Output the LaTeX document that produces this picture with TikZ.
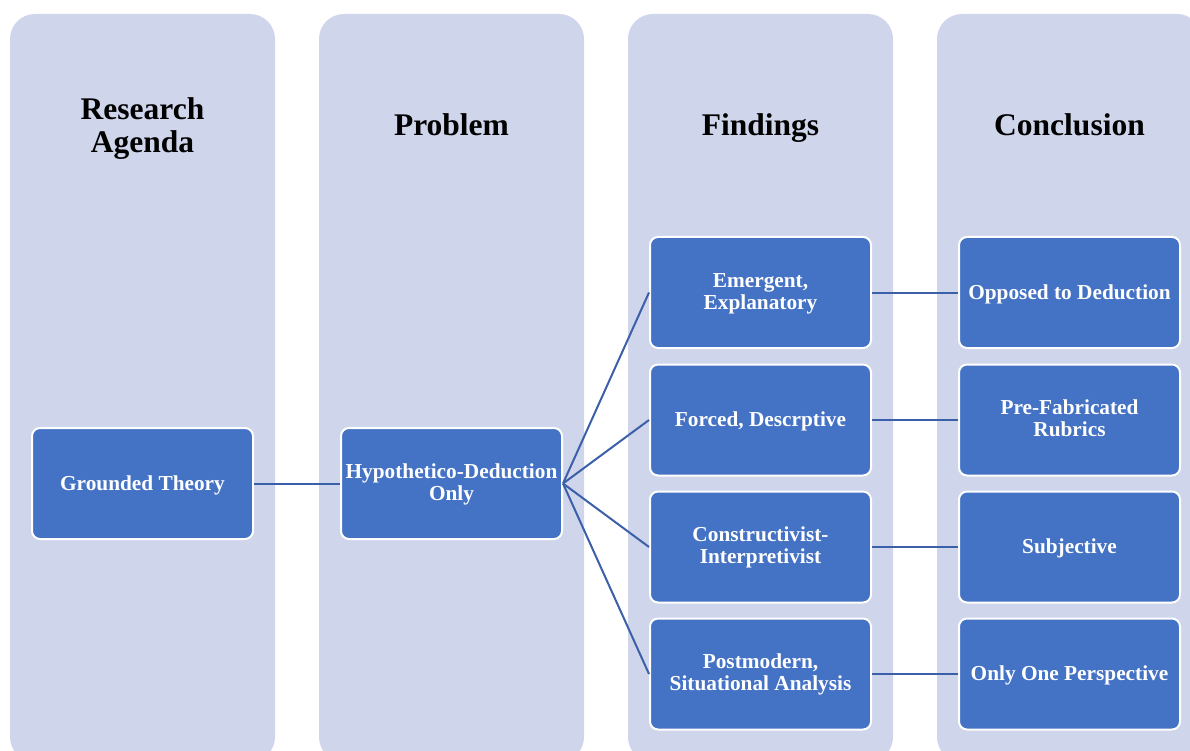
\documentclass[tikz,border=0pt]{standalone}
\usepackage{fontspec}
\setmainfont{Liberation Serif}
\begin{document}
\definecolor{colbg}{RGB}{207,213,234}
\definecolor{boxfill}{RGB}{68,114,196}
\definecolor{linkblue}{RGB}{59,95,168}
\begin{tikzpicture}[x=1pt,y=-1pt,
  column/.style={fill=colbg,rounded corners=25pt},
  heading/.style={font=\fontsize{31.5}{33}\selectfont\bfseries,align=center,text=black},
  item/.style={draw=white,line width=2pt,fill=boxfill,rounded corners=8pt,
    minimum width=221pt,minimum height=111pt,inner sep=2pt,
    text=white,align=center,font=\fontsize{21.3}{21.7}\selectfont\bfseries,
    text height=15pt,text depth=1.6pt},
  item2/.style={item,text height=36.7pt,text depth=3.7pt},
  link/.style={draw=linkblue,line width=2pt}]
\useasboundingbox (0,0) rectangle (1190,751);
\clip (0,0) rectangle (1190,751);
% column backgrounds
\fill[column] (10,14) rectangle (275,762);
\fill[column] (319,14) rectangle (584,762);
\fill[column] (628,14) rectangle (893,762);
\fill[column] (937,14) rectangle (1202,762);
% headings
\node[heading] (h1) at (142.5,128.5) {Research\\Agenda};
\node[heading,anchor=base] (h2) at (451.5,135.7) {Problem};
\node[heading,anchor=base] (h3) at (760.5,135.7) {Findings};
\node[heading,anchor=base] (h4) at (1069.5,135.7) {Conclusion};
% boxes
\node[item] (gt) at (142.5,483.5) {Grounded Theory};
\node[item2] (hd) at (451.5,483.5) {Hypothetico-Deduction\\Only};
\node[item2] (f1) at (760.5,292.5) {Emergent,\\Explanatory};
\node[item] (f2) at (760.5,420) {Forced, Descrptive};
\node[item2] (f3) at (760.5,547) {Constructivist-\\Interpretivist};
\node[item2] (f4) at (760.5,674) {Postmodern,\\Situational Analysis};
\node[item] (c1) at (1069.5,292.5) {Opposed to Deduction};
\node[item2] (c2) at (1069.5,420) {Pre-Fabricated\\Rubrics};
\node[item] (c3) at (1069.5,547) {Subjective};
\node[item] (c4) at (1069.5,674) {Only One Perspective};
% connectors
\draw[link] (gt.east) -- (hd.west);
\foreach \f in {f1,f2,f3,f4}{\draw[link] (hd.east) -- (\f.west);}
\draw[link] (f1.east) -- (c1.west);
\draw[link] (f2.east) -- (c2.west);
\draw[link] (f3.east) -- (c3.west);
\draw[link] (f4.east) -- (c4.west);
\end{tikzpicture}
\end{document}
